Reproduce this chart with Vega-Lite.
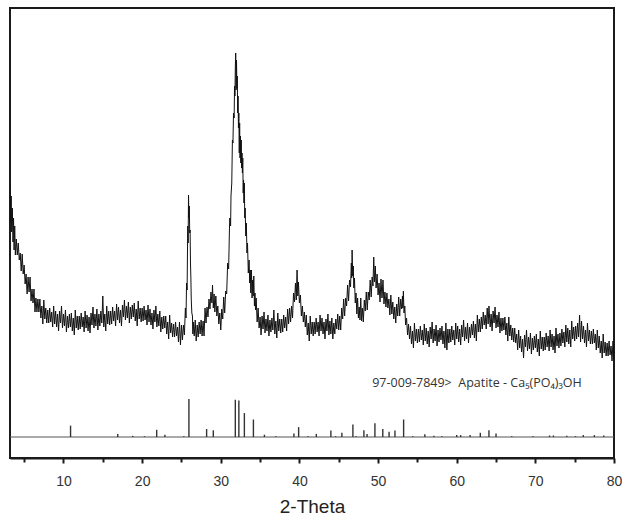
{
  "$schema": "https://vega.github.io/schema/vega-lite/v6.json",
  "autosize": "none",
  "width": 604,
  "height": 450,
  "padding": {"left": 10, "top": 8, "right": 8, "bottom": 66},
  "background": "white",
  "config": {
    "view": {"stroke": "#1a1a1a", "strokeWidth": 2},
    "font": "Liberation Sans"
  },
  "datasets": {
    "scan": [
      {"t":3.2,"i":272},{"t":3.28,"i":236},{"t":3.35,"i":262},{"t":3.42,"i":226},{"t":3.5,"i":250},{"t":3.58,"i":216},{"t":3.65,"i":240},{"t":3.72,"i":208},{"t":3.8,"i":232},{"t":3.88,"i":203},
      {"t":4.0,"i":219},{"t":4.125,"i":203},{"t":4.25,"i":215},{"t":4.375,"i":198},{"t":4.5,"i":205},{"t":4.625,"i":187},{"t":4.75,"i":204},{"t":4.875,"i":184},{"t":5.0,"i":193},{"t":5.125,"i":174},{"t":5.25,"i":184},{"t":5.375,"i":164},{"t":5.5,"i":181},{"t":5.625,"i":166},{"t":5.75,"i":181},{"t":5.875,"i":157},
      {"t":6.0,"i":169},{"t":6.125,"i":155},{"t":6.25,"i":169},{"t":6.375,"i":146},{"t":6.5,"i":160},{"t":6.625,"i":146},{"t":6.75,"i":159},{"t":6.875,"i":146},{"t":7.0,"i":159},{"t":7.125,"i":140},{"t":7.25,"i":152},{"t":7.375,"i":134},{"t":7.5,"i":158},{"t":7.625,"i":139},{"t":7.75,"i":150},{"t":7.875,"i":135},
      {"t":8.0,"i":148},{"t":8.125,"i":135},{"t":8.25,"i":150},{"t":8.375,"i":136},{"t":8.5,"i":146},{"t":8.625,"i":131},{"t":8.75,"i":152},{"t":8.875,"i":134},{"t":9.0,"i":147},{"t":9.125,"i":131},{"t":9.25,"i":144},{"t":9.375,"i":127},{"t":9.5,"i":147},{"t":9.625,"i":135},{"t":9.75,"i":152},{"t":9.875,"i":130},
      {"t":10.0,"i":144},{"t":10.125,"i":132},{"t":10.25,"i":148},{"t":10.375,"i":126},{"t":10.5,"i":142},{"t":10.625,"i":130},{"t":10.75,"i":144},{"t":10.875,"i":131},{"t":11.0,"i":145},{"t":11.125,"i":127},{"t":11.25,"i":140},{"t":11.375,"i":123},{"t":11.5,"i":148},{"t":11.625,"i":130},{"t":11.75,"i":142},{"t":11.875,"i":128},
      {"t":12.0,"i":142},{"t":12.125,"i":129},{"t":12.25,"i":145},{"t":12.375,"i":131},{"t":12.5,"i":141},{"t":12.625,"i":126},{"t":12.75,"i":147},{"t":12.875,"i":130},{"t":13.0,"i":143},{"t":13.125,"i":127},{"t":13.25,"i":141},{"t":13.375,"i":125},{"t":13.5,"i":145},{"t":13.625,"i":133},{"t":13.75,"i":151},{"t":13.875,"i":130},
      {"t":14.0,"i":144},{"t":14.125,"i":132},{"t":14.25,"i":149},{"t":14.375,"i":128},{"t":14.5,"i":144},{"t":14.625,"i":132},{"t":14.75,"i":147},{"t":14.875,"i":135},{"t":15.0,"i":162},{"t":15.125,"i":131},{"t":15.25,"i":144},{"t":15.375,"i":127},{"t":15.5,"i":152},{"t":15.625,"i":134},{"t":15.75,"i":147},{"t":15.875,"i":133},
      {"t":16.0,"i":147},{"t":16.125,"i":134},{"t":16.25,"i":151},{"t":16.375,"i":137},{"t":16.5,"i":147},{"t":16.625,"i":132},{"t":16.75,"i":154},{"t":16.875,"i":138},{"t":17.0,"i":151},{"t":17.125,"i":135},{"t":17.25,"i":148},{"t":17.375,"i":132},{"t":17.5,"i":153},{"t":17.625,"i":141},{"t":17.75,"i":158},{"t":17.875,"i":138},
      {"t":18.0,"i":152},{"t":18.125,"i":140},{"t":18.25,"i":156},{"t":18.375,"i":135},{"t":18.5,"i":151},{"t":18.625,"i":139},{"t":18.75,"i":153},{"t":18.875,"i":141},{"t":19.0,"i":155},{"t":19.125,"i":137},{"t":19.25,"i":149},{"t":19.375,"i":132},{"t":19.5,"i":157},{"t":19.625,"i":139},{"t":19.75,"i":150},{"t":19.875,"i":136},
      {"t":20.0,"i":150},{"t":20.125,"i":137},{"t":20.25,"i":152},{"t":20.375,"i":138},{"t":20.5,"i":148},{"t":20.625,"i":133},{"t":20.75,"i":153},{"t":20.875,"i":136},{"t":21.0,"i":149},{"t":21.125,"i":133},{"t":21.25,"i":145},{"t":21.375,"i":129},{"t":21.5,"i":148},{"t":21.625,"i":136},{"t":21.75,"i":152},{"t":21.875,"i":131},
      {"t":22.0,"i":144},{"t":22.125,"i":132},{"t":22.25,"i":147},{"t":22.375,"i":126},{"t":22.5,"i":141},{"t":22.625,"i":129},{"t":22.75,"i":142},{"t":22.875,"i":130},{"t":23.0,"i":142},{"t":23.125,"i":124},{"t":23.25,"i":136},{"t":23.375,"i":119},{"t":23.5,"i":143},{"t":23.625,"i":125},{"t":23.75,"i":135},{"t":23.875,"i":121},
      {"t":24.0,"i":134},{"t":24.125,"i":121},{"t":24.25,"i":136},{"t":24.375,"i":122},{"t":24.5,"i":131},{"t":24.625,"i":116},{"t":24.75,"i":136},{"t":24.875,"i":113},{"t":25.0,"i":133},{"t":25.125,"i":118},{"t":25.25,"i":133},{"t":25.375,"i":123},
      {"t":25.5,"i":150},{"t":25.58,"i":140},{"t":25.65,"i":175},{"t":25.72,"i":168},{"t":25.8,"i":232},{"t":25.85,"i":215},{"t":25.9,"i":263},{"t":25.95,"i":240},{"t":26.0,"i":252},{"t":26.05,"i":225},{"t":26.1,"i":228},{"t":26.15,"i":195},{"t":26.2,"i":180},{"t":26.25,"i":158},{"t":26.32,"i":145},{"t":26.4,"i":142},{"t":26.45,"i":124},
      {"t":26.5,"i":136},{"t":26.625,"i":122},{"t":26.75,"i":138},{"t":26.875,"i":117},{"t":27.0,"i":133},{"t":27.125,"i":121},{"t":27.25,"i":136},{"t":27.375,"i":124},{"t":27.5,"i":138},{"t":27.625,"i":122},{"t":27.75,"i":137},{"t":27.875,"i":122},
      {"t":28.0,"i":150},{"t":28.125,"i":135},{"t":28.25,"i":151},{"t":28.375,"i":141},{"t":28.5,"i":159},{"t":28.625,"i":149},{"t":28.75,"i":166},{"t":28.875,"i":155},{"t":28.95,"i":173},{"t":29.05,"i":150},{"t":29.15,"i":164},{"t":29.25,"i":146},{"t":29.375,"i":162},{"t":29.5,"i":142},{"t":29.625,"i":152},{"t":29.75,"i":134},{"t":29.875,"i":145},
      {"t":30.0,"i":128},{"t":30.125,"i":149},{"t":30.25,"i":139},{"t":30.375,"i":161},{"t":30.5,"i":145},{"t":30.625,"i":167},{"t":30.75,"i":164},{"t":30.875,"i":195},{"t":31.0,"i":189},{"t":31.1,"i":228},{"t":31.15,"i":240},{"t":31.25,"i":232},{"t":31.3,"i":262},{"t":31.4,"i":275},{"t":31.48,"i":318},{"t":31.55,"i":315},{"t":31.62,"i":345},{"t":31.7,"i":340},{"t":31.75,"i":372},{"t":31.8,"i":362},{"t":31.85,"i":390},{"t":31.9,"i":405},{"t":31.95,"i":368},
      {"t":32.0,"i":398},{"t":32.05,"i":370},{"t":32.1,"i":382},{"t":32.15,"i":345},{"t":32.2,"i":362},{"t":32.25,"i":330},{"t":32.3,"i":345},{"t":32.35,"i":305},{"t":32.4,"i":335},{"t":32.45,"i":300},{"t":32.5,"i":322},{"t":32.55,"i":295},{"t":32.6,"i":318},{"t":32.65,"i":290},{"t":32.7,"i":305},{"t":32.75,"i":285},{"t":32.8,"i":300},{"t":32.85,"i":265},{"t":32.9,"i":278},{"t":32.95,"i":255},
      {"t":33.0,"i":275},{"t":33.05,"i":240},{"t":33.1,"i":250},{"t":33.18,"i":222},{"t":33.25,"i":235},{"t":33.33,"i":205},{"t":33.4,"i":215},{"t":33.5,"i":185},{"t":33.6,"i":198},{"t":33.68,"i":175},{"t":33.75,"i":188},{"t":33.82,"i":165},{"t":33.9,"i":188},{"t":33.98,"i":160},
      {"t":34.05,"i":178},{"t":34.12,"i":162},{"t":34.2,"i":182},{"t":34.28,"i":152},{"t":34.35,"i":165},{"t":34.42,"i":148},{"t":34.5,"i":160},{"t":34.625,"i":136},{"t":34.75,"i":150},{"t":34.875,"i":130},{"t":35.0,"i":141},{"t":35.125,"i":123},{"t":35.25,"i":142},{"t":35.375,"i":129},{"t":35.5,"i":146},{"t":35.625,"i":125},{"t":35.75,"i":139},{"t":35.875,"i":127},
      {"t":36.0,"i":143},{"t":36.125,"i":122},{"t":36.25,"i":138},{"t":36.375,"i":126},{"t":36.5,"i":140},{"t":36.625,"i":128},{"t":36.75,"i":148},{"t":36.875,"i":124},{"t":37.0,"i":137},{"t":37.125,"i":120},{"t":37.25,"i":145},{"t":37.375,"i":127},{"t":37.5,"i":139},{"t":37.625,"i":125},{"t":37.75,"i":139},{"t":37.875,"i":126},
      {"t":38.0,"i":143},{"t":38.125,"i":130},{"t":38.25,"i":141},{"t":38.375,"i":127},{"t":38.5,"i":149},{"t":38.625,"i":134},{"t":38.75,"i":150},{"t":38.875,"i":136},{"t":39.0,"i":152},{"t":39.125,"i":140},{"t":39.25,"i":165},{"t":39.375,"i":156},{"t":39.5,"i":175},{"t":39.6,"i":158},{"t":39.7,"i":188},{"t":39.8,"i":162},{"t":39.875,"i":176},
      {"t":40.0,"i":155},{"t":40.125,"i":163},{"t":40.25,"i":142},{"t":40.375,"i":152},{"t":40.5,"i":136},{"t":40.625,"i":146},{"t":40.75,"i":131},{"t":40.875,"i":143},{"t":41.0,"i":123},{"t":41.125,"i":135},{"t":41.25,"i":117},{"t":41.375,"i":142},{"t":41.5,"i":124},{"t":41.625,"i":136},{"t":41.75,"i":122},{"t":41.875,"i":136},
      {"t":42.0,"i":124},{"t":42.125,"i":140},{"t":42.25,"i":126},{"t":42.375,"i":136},{"t":42.5,"i":122},{"t":42.625,"i":143},{"t":42.75,"i":127},{"t":42.875,"i":140},{"t":43.0,"i":124},{"t":43.125,"i":136},{"t":43.25,"i":119},{"t":43.375,"i":139},{"t":43.5,"i":127},{"t":43.625,"i":144},{"t":43.75,"i":123},{"t":43.875,"i":137},
      {"t":44.0,"i":124},{"t":44.125,"i":140},{"t":44.25,"i":119},{"t":44.375,"i":135},{"t":44.5,"i":124},{"t":44.625,"i":139},{"t":44.75,"i":129},{"t":44.875,"i":144},{"t":45.0,"i":128},{"t":45.125,"i":142},{"t":45.25,"i":128},{"t":45.375,"i":150},{"t":45.5,"i":139},{"t":45.625,"i":159},{"t":45.75,"i":142},{"t":45.875,"i":160},
      {"t":46.0,"i":152},{"t":46.125,"i":173},{"t":46.25,"i":157},{"t":46.375,"i":178},{"t":46.5,"i":171},{"t":46.6,"i":195},{"t":46.65,"i":180},{"t":46.7,"i":208},{"t":46.78,"i":182},{"t":46.85,"i":192},{"t":46.92,"i":170},{"t":47.0,"i":180},{"t":47.1,"i":155},{"t":47.2,"i":165},{"t":47.3,"i":144},{"t":47.4,"i":160},{"t":47.5,"i":140},{"t":47.6,"i":151},{"t":47.7,"i":138},{"t":47.8,"i":160},{"t":47.9,"i":137},
      {"t":48.0,"i":150},{"t":48.125,"i":136},{"t":48.25,"i":158},{"t":48.375,"i":147},{"t":48.5,"i":166},{"t":48.625,"i":148},{"t":48.75,"i":166},{"t":48.875,"i":158},{"t":49.0,"i":178},{"t":49.125,"i":161},{"t":49.25,"i":181},{"t":49.35,"i":172},{"t":49.45,"i":201},{"t":49.55,"i":176},{"t":49.65,"i":192},{"t":49.75,"i":170},{"t":49.875,"i":184},
      {"t":50.0,"i":163},{"t":50.125,"i":175},{"t":50.25,"i":156},{"t":50.375,"i":179},{"t":50.5,"i":160},{"t":50.625,"i":178},{"t":50.75,"i":154},{"t":50.875,"i":166},{"t":51.0,"i":151},{"t":51.125,"i":165},{"t":51.25,"i":150},{"t":51.375,"i":159},{"t":51.5,"i":143},{"t":51.625,"i":163},{"t":51.75,"i":144},{"t":51.875,"i":156},
      {"t":52.0,"i":139},{"t":52.125,"i":151},{"t":52.25,"i":135},{"t":52.375,"i":154},{"t":52.5,"i":142},{"t":52.625,"i":161},{"t":52.75,"i":142},{"t":52.875,"i":159},{"t":53.0,"i":149},{"t":53.1,"i":162},{"t":53.15,"i":150},{"t":53.22,"i":167},{"t":53.3,"i":145},{"t":53.4,"i":152},{"t":53.5,"i":133},{"t":53.625,"i":140},{"t":53.75,"i":123},{"t":53.875,"i":134},
      {"t":54.0,"i":119},{"t":54.125,"i":132},{"t":54.25,"i":114},{"t":54.375,"i":127},{"t":54.5,"i":110},{"t":54.625,"i":135},{"t":54.75,"i":117},{"t":54.875,"i":129},{"t":55.0,"i":115},{"t":55.125,"i":129},{"t":55.25,"i":116},{"t":55.375,"i":132},{"t":55.5,"i":118},{"t":55.625,"i":128},{"t":55.75,"i":113},{"t":55.875,"i":134},
      {"t":56.0,"i":117},{"t":56.125,"i":130},{"t":56.25,"i":114},{"t":56.375,"i":127},{"t":56.5,"i":111},{"t":56.625,"i":131},{"t":56.75,"i":119},{"t":56.875,"i":136},{"t":57.0,"i":115},{"t":57.125,"i":129},{"t":57.25,"i":117},{"t":57.375,"i":133},{"t":57.5,"i":112},{"t":57.625,"i":128},{"t":57.75,"i":116},{"t":57.875,"i":130},
      {"t":58.0,"i":118},{"t":58.125,"i":132},{"t":58.25,"i":114},{"t":58.375,"i":127},{"t":58.5,"i":110},{"t":58.625,"i":135},{"t":58.75,"i":108},{"t":58.875,"i":129},{"t":59.0,"i":115},{"t":59.125,"i":129},{"t":59.25,"i":116},{"t":59.375,"i":132},{"t":59.5,"i":118},{"t":59.625,"i":128},{"t":59.75,"i":113},{"t":59.875,"i":135},
      {"t":60.0,"i":119},{"t":60.125,"i":132},{"t":60.25,"i":116},{"t":60.375,"i":129},{"t":60.5,"i":113},{"t":60.625,"i":133},{"t":60.75,"i":121},{"t":60.875,"i":138},{"t":61.0,"i":117},{"t":61.125,"i":131},{"t":61.25,"i":119},{"t":61.375,"i":135},{"t":61.5,"i":115},{"t":61.625,"i":131},{"t":61.75,"i":120},{"t":61.875,"i":134},
      {"t":62.0,"i":123},{"t":62.125,"i":137},{"t":62.25,"i":120},{"t":62.375,"i":134},{"t":62.5,"i":117},{"t":62.625,"i":143},{"t":62.75,"i":126},{"t":62.875,"i":139},{"t":63.0,"i":126},{"t":63.125,"i":141},{"t":63.25,"i":129},{"t":63.375,"i":146},{"t":63.5,"i":133},{"t":63.625,"i":143},{"t":63.75,"i":129},{"t":63.875,"i":150},
      {"t":64.0,"i":134},{"t":64.1,"i":152},{"t":64.25,"i":131},{"t":64.375,"i":144},{"t":64.5,"i":127},{"t":64.625,"i":147},{"t":64.75,"i":135},{"t":64.875,"i":151},{"t":65.0,"i":130},{"t":65.125,"i":143},{"t":65.25,"i":131},{"t":65.375,"i":146},{"t":65.5,"i":125},{"t":65.625,"i":140},{"t":65.75,"i":127},{"t":65.875,"i":140},
      {"t":66.0,"i":128},{"t":66.125,"i":141},{"t":66.25,"i":123},{"t":66.375,"i":135},{"t":66.5,"i":117},{"t":66.625,"i":141},{"t":66.75,"i":122},{"t":66.875,"i":133},{"t":67.0,"i":118},{"t":67.125,"i":130},{"t":67.25,"i":116},{"t":67.375,"i":130},{"t":67.5,"i":115},{"t":67.625,"i":124},{"t":67.75,"i":108},{"t":67.875,"i":128},
      {"t":68.0,"i":110},{"t":68.125,"i":122},{"t":68.25,"i":106},{"t":68.375,"i":119},{"t":68.5,"i":100},{"t":68.625,"i":123},{"t":68.75,"i":111},{"t":68.875,"i":128},{"t":69.0,"i":107},{"t":69.125,"i":121},{"t":69.25,"i":109},{"t":69.375,"i":125},{"t":69.5,"i":104},{"t":69.625,"i":120},{"t":69.75,"i":108},{"t":69.875,"i":122},
      {"t":70.0,"i":110},{"t":70.125,"i":124},{"t":70.25,"i":106},{"t":70.375,"i":119},{"t":70.5,"i":102},{"t":70.625,"i":127},{"t":70.75,"i":109},{"t":70.875,"i":121},{"t":71.0,"i":107},{"t":71.125,"i":121},{"t":71.25,"i":108},{"t":71.375,"i":125},{"t":71.5,"i":111},{"t":71.625,"i":122},{"t":71.75,"i":107},{"t":71.875,"i":128},
      {"t":72.0,"i":111},{"t":72.125,"i":124},{"t":72.25,"i":108},{"t":72.375,"i":122},{"t":72.5,"i":105},{"t":72.625,"i":130},{"t":72.75,"i":112},{"t":72.875,"i":124},{"t":73.0,"i":110},{"t":73.125,"i":125},{"t":73.25,"i":112},{"t":73.375,"i":129},{"t":73.5,"i":115},{"t":73.625,"i":126},{"t":73.75,"i":111},{"t":73.875,"i":133},
      {"t":74.0,"i":116},{"t":74.125,"i":130},{"t":74.25,"i":114},{"t":74.375,"i":128},{"t":74.5,"i":111},{"t":74.625,"i":137},{"t":74.75,"i":119},{"t":74.875,"i":131},{"t":75.0,"i":117},{"t":75.125,"i":132},{"t":75.25,"i":119},{"t":75.375,"i":135},{"t":75.5,"i":121},{"t":75.625,"i":143},{"t":75.75,"i":116},{"t":75.875,"i":137},
      {"t":76.0,"i":119},{"t":76.125,"i":132},{"t":76.25,"i":115},{"t":76.375,"i":128},{"t":76.5,"i":111},{"t":76.625,"i":135},{"t":76.75,"i":117},{"t":76.875,"i":128},{"t":77.0,"i":114},{"t":77.125,"i":127},{"t":77.25,"i":114},{"t":77.375,"i":129},{"t":77.5,"i":115},{"t":77.625,"i":124},{"t":77.75,"i":108},{"t":77.875,"i":128},
      {"t":78.0,"i":110},{"t":78.125,"i":122},{"t":78.25,"i":105},{"t":78.375,"i":117},{"t":78.5,"i":100},{"t":78.625,"i":124},{"t":78.75,"i":105},{"t":78.875,"i":116},{"t":79.0,"i":102},{"t":79.125,"i":115},{"t":79.25,"i":102},{"t":79.375,"i":117},{"t":79.5,"i":103},{"t":79.625,"i":112},{"t":79.75,"i":97},{"t":79.875,"i":117},{"t":80.0,"i":99}
    ],
    "ref": [
      {"t":10.9,"r":30},{"t":16.9,"r":8},{"t":18.8,"r":3},{"t":20.3,"r":2},{"t":21.85,"r":19},{"t":22.9,"r":6},{"t":25.3,"r":2},{"t":25.95,"r":100},{"t":28.2,"r":21},{"t":29.05,"r":18},{"t":31.85,"r":98},{"t":32.3,"r":96},{"t":33.0,"r":63},{"t":34.15,"r":46},{"t":35.55,"r":6},{"t":37.0,"r":2},{"t":39.3,"r":9},{"t":39.9,"r":26},{"t":41.1,"r":2},{"t":42.15,"r":8},{"t":44.0,"r":17},{"t":44.6,"r":2},{"t":45.4,"r":11},{"t":46.8,"r":33},{"t":47.2,"r":2},{"t":48.2,"r":18},{"t":48.6,"r":8},{"t":49.6,"r":36},{"t":50.6,"r":21},{"t":51.4,"r":14},{"t":52.15,"r":17},{"t":53.25,"r":46},{"t":54.4,"r":2},{"t":55.95,"r":7},{"t":57.1,"r":3},{"t":58.1,"r":2},{"t":60.0,"r":5},{"t":60.5,"r":5},{"t":61.7,"r":5},{"t":63.0,"r":11},{"t":64.1,"r":18},{"t":65.0,"r":9},{"t":67.0,"r":2},{"t":69.7,"r":2},{"t":71.8,"r":4},{"t":72.3,"r":4},{"t":74.0,"r":3},{"t":75.1,"r":2},{"t":76.1,"r":5},{"t":77.5,"r":5},{"t":78.7,"r":4}
    ],
    "label": [
      {"t":75.9,"r":142,"name":"97-009-7849>\u00a0 Apatite - Ca\u2085(PO\u2084)\u2083OH"}
    ]
  },
  "encoding": {
    "x": {
      "field": "t",
      "type": "quantitative",
      "scale": {"domain": [3.2, 80], "nice": false, "zero": false},
      "axis": {
        "title": "2-Theta",
        "values": [5,10,15,20,25,30,35,40,45,50,55,60,65,70,75,80],
        "labelExpr": "datum.value % 10 === 0 ? datum.label : ''",
        "grid": false,
        "domainColor": "#1a1a1a",
        "domainWidth": 2,
        "tickColor": "#1a1a1a",
        "tickWidth": 2,
        "tickSize": {"condition": {"test": "datum.value % 10 === 0", "value": 5}, "value": 4},
        "labelFontSize": 14,
        "labelColor": "#333333",
        "labelPadding": 11,
        "labelFont": "Liberation Sans",
        "labelFlush": false,
        "titleFontSize": 19,
        "titleFontWeight": "normal",
        "titleColor": "#222222",
        "titleFont": "Liberation Sans",
        "titlePadding": 9
      }
    }
  },
  "layer": [
    {
      "data": {"name": "scan"},
      "mark": {"type": "line", "color": "#111111", "strokeWidth": 1, "clip": true},
      "encoding": {
        "y": {"field": "i", "type": "quantitative", "scale": {"domain": [0, 450], "nice": false, "zero": false}, "axis": null}
      }
    },
    {
      "layer": [
        {
          "data": {"name": "label"},
          "mark": {"type": "rule", "color": "#555555", "strokeWidth": 1},
          "encoding": {"x": {"datum": 3.2}, "x2": {"datum": 80}, "y": {"datum": 0}}
        },
        {
          "data": {"name": "ref"},
          "mark": {"type": "rule", "color": "#333333", "strokeWidth": 1.4},
          "encoding": {"y": {"field": "r", "type": "quantitative"}, "y2": {"datum": 0}}
        },
        {
          "data": {"name": "label"},
          "mark": {"type": "text", "align": "right", "baseline": "middle", "fontSize": 12.5, "font": "Open Sans", "color": "#333333"},
          "encoding": {"y": {"field": "r", "type": "quantitative"}, "text": {"field": "name"}}
        }
      ],
      "encoding": {
        "y": {"type": "quantitative", "scale": {"domain": [-55.26, 1128.9], "nice": false, "zero": false}, "axis": null}
      }
    }
  ],
  "resolve": {"scale": {"y": "independent"}}
}
